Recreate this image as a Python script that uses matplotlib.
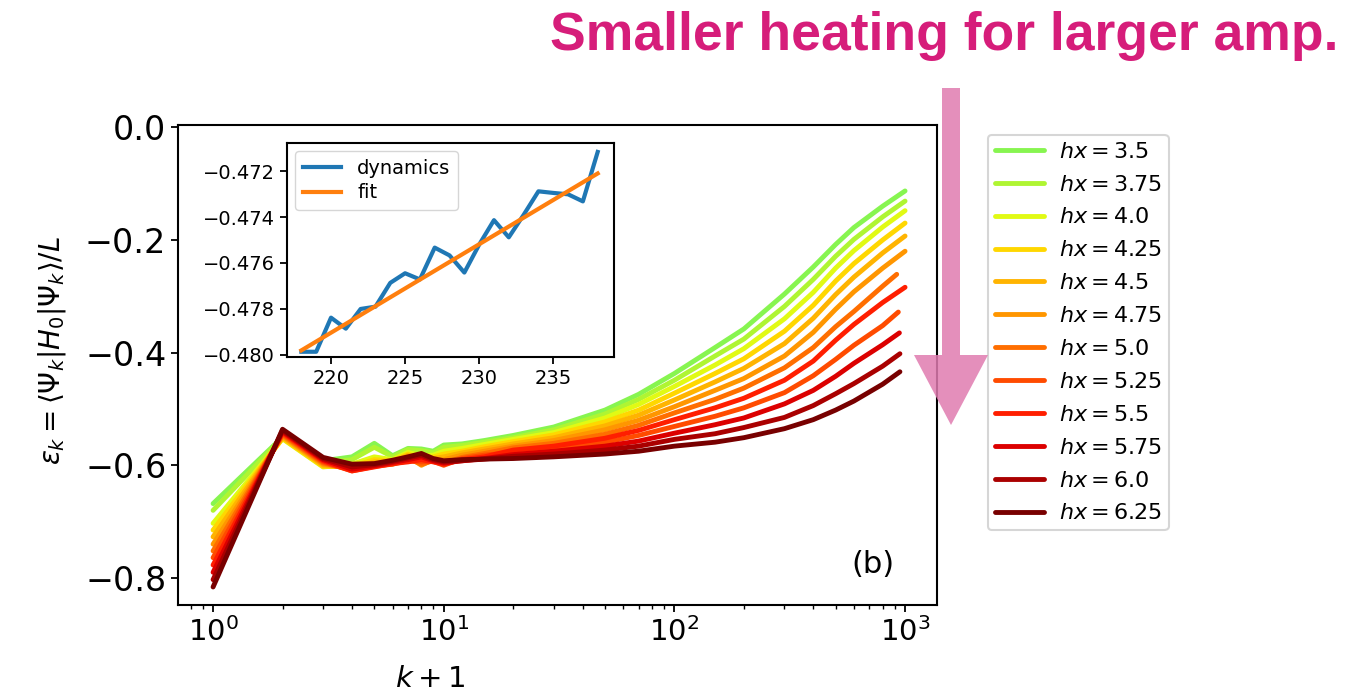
import matplotlib
matplotlib.use('Agg')
import matplotlib.pyplot as plt
from matplotlib.patches import FancyArrow
from matplotlib.ticker import FixedLocator

plt.rcParams['font.family'] = ['DejaVu Sans']
plt.rcParams['mathtext.fontset'] = 'dejavusans'

# k+1 sample points (the last point is replaced by each curve's end point)
k_grid = [1, 2, 3, 4, 5, 6, 7, 8, 9, 10, 12, 15, 20, 30, 50, 70, 100, 150, 200, 300, 400, 500, 600, 800, 1000]

hx_values = ['3.5', '3.75', '4.0', '4.25', '4.5', '4.75', '5.0', '5.25', '5.5', '5.75', '6.0', '6.25']
end_k = [1000, 1000, 1000, 1000, 1000, 1000, 920, 935, 1000, 945, 950, 950]
line_colors = ['#87f550', '#aff532', '#e1fa14', '#ffd700', '#ffb400', '#ff9600',
               '#ff6e00', '#ff4b00', '#ff1e00', '#dc0000', '#aa0000', '#780000']

eps_350 = [-0.668, -0.550, -0.592, -0.585, -0.561, -0.583, -0.570, -0.571, -0.575, -0.564, -0.562, -0.556,
           -0.547, -0.532, -0.502, -0.474, -0.437, -0.391, -0.358, -0.296, -0.248, -0.208, -0.178, -0.140, -0.113]
eps_375 = [-0.680, -0.551, -0.595, -0.590, -0.568, -0.585, -0.572, -0.574, -0.578, -0.568, -0.565, -0.559,
           -0.551, -0.537, -0.509, -0.483, -0.449, -0.406, -0.376, -0.318, -0.270, -0.229, -0.199, -0.159, -0.131]
eps_400 = [-0.703, -0.553, -0.603, -0.598, -0.585, -0.590, -0.577, -0.583, -0.582, -0.575, -0.570, -0.563,
           -0.554, -0.542, -0.516, -0.492, -0.460, -0.422, -0.393, -0.340, -0.293, -0.250, -0.219, -0.177, -0.148]
eps_425 = [-0.715, -0.552, -0.602, -0.602, -0.590, -0.592, -0.580, -0.590, -0.585, -0.580, -0.575, -0.567,
           -0.558, -0.546, -0.523, -0.502, -0.472, -0.437, -0.411, -0.362, -0.316, -0.273, -0.242, -0.200, -0.170]
eps_450 = [-0.727, -0.550, -0.600, -0.604, -0.594, -0.595, -0.582, -0.596, -0.588, -0.585, -0.578, -0.571,
           -0.562, -0.551, -0.530, -0.511, -0.484, -0.452, -0.428, -0.384, -0.339, -0.297, -0.266, -0.223, -0.193]
eps_475 = [-0.740, -0.548, -0.598, -0.606, -0.597, -0.597, -0.584, -0.600, -0.590, -0.590, -0.582, -0.575,
           -0.566, -0.556, -0.537, -0.520, -0.496, -0.467, -0.446, -0.406, -0.364, -0.323, -0.292, -0.250, -0.220]
eps_500 = [-0.752, -0.546, -0.596, -0.608, -0.600, -0.598, -0.588, -0.598, -0.592, -0.596, -0.586, -0.579,
           -0.569, -0.561, -0.545, -0.529, -0.507, -0.483, -0.463, -0.427, -0.391, -0.354, -0.327, -0.282, -0.261]
eps_525 = [-0.764, -0.544, -0.594, -0.610, -0.602, -0.598, -0.592, -0.594, -0.593, -0.600, -0.588, -0.582,
           -0.577, -0.571, -0.559, -0.547, -0.531, -0.513, -0.498, -0.471, -0.441, -0.412, -0.387, -0.352, -0.328]
eps_550 = [-0.777, -0.542, -0.592, -0.610, -0.603, -0.597, -0.594, -0.590, -0.594, -0.598, -0.590, -0.585,
           -0.573, -0.566, -0.552, -0.538, -0.519, -0.498, -0.481, -0.449, -0.415, -0.378, -0.350, -0.311, -0.284]
eps_575 = [-0.790, -0.540, -0.590, -0.607, -0.601, -0.595, -0.590, -0.585, -0.592, -0.596, -0.592, -0.588,
           -0.581, -0.575, -0.566, -0.557, -0.543, -0.528, -0.516, -0.491, -0.467, -0.442, -0.419, -0.386, -0.365]
eps_600 = [-0.803, -0.538, -0.588, -0.603, -0.599, -0.593, -0.587, -0.582, -0.590, -0.594, -0.592, -0.589,
           -0.584, -0.580, -0.573, -0.566, -0.554, -0.544, -0.533, -0.515, -0.494, -0.473, -0.455, -0.424, -0.402]
eps_625 = [-0.816, -0.536, -0.586, -0.598, -0.597, -0.591, -0.585, -0.579, -0.588, -0.592, -0.590, -0.589,
           -0.588, -0.585, -0.580, -0.575, -0.566, -0.559, -0.551, -0.535, -0.519, -0.502, -0.486, -0.456, -0.434]

all_eps = [eps_350, eps_375, eps_400, eps_425, eps_450, eps_475,
           eps_500, eps_525, eps_550, eps_575, eps_600, eps_625]

# inset: energy around k ~ 218..238
inset_k = [218, 219, 220, 221, 222, 223, 224, 225, 226, 227, 228, 229, 230, 231, 232, 233, 234, 235, 236, 237, 238]
inset_dyn = [-0.47988, -0.47988, -0.47839, -0.47887, -0.47801, -0.47791, -0.47687, -0.47645, -0.47672,
             -0.47533, -0.47567, -0.47642, -0.47520, -0.47413, -0.47488, -0.47390, -0.47287, -0.47294,
             -0.47300, -0.47331, -0.47115]
fit_k = [218, 238]
fit_val = [-0.47982, -0.47209]

fig = plt.figure(figsize=(13.5, 6.95), dpi=100)
ax = fig.add_axes([0.1319, 0.1295, 0.5622, 0.6906])

for hx, eps, kend, c in zip(hx_values, all_eps, end_k, line_colors):
    kk = k_grid[:-1] + [kend]
    ax.plot(kk, eps, color=c, lw=3.5, solid_capstyle='round', solid_joinstyle='round',
            label=r'$hx = %s$' % hx)

ax.set_xscale('log')
ax.set_xlim(0.705, 1376)
ax.set_ylim(-0.848, 0.004)
ax.yaxis.set_major_locator(FixedLocator([0.0, -0.2, -0.4, -0.6, -0.8]))
ax.tick_params(axis='y', labelsize=24, width=1.3, length=5)
ax.tick_params(axis='x', which='major', labelsize=21, width=1.3, length=5)
ax.tick_params(axis='x', which='minor', width=1.0, length=3)
for s in ax.spines.values():
    s.set_linewidth(1.5)
ax.set_xlabel(r'$k+1$', fontsize=21)
ax.xaxis.set_label_coords((430 - 178) / 759, -0.125)
ax.set_ylabel(r'$\varepsilon_k = \langle\Psi_k|H_0|\Psi_k\rangle/L$', fontsize=20)
ax.yaxis.set_label_coords(-0.145, 0.53)
ax.text(0.915, 0.085, '(b)', transform=ax.transAxes, fontsize=22, ha='center', va='center')

leg = ax.legend(loc='upper left', bbox_to_anchor=(988 / 1350, 1 - 135 / 695),
                bbox_transform=fig.transFigure, borderaxespad=0, fontsize=16,
                labelspacing=0.58, handlelength=2.2, handletextpad=0.7,
                borderpad=0.3, frameon=True)
leg.get_frame().set_edgecolor('#cccccc')
leg.get_frame().set_linewidth(1.5)

# inset
axin = fig.add_axes([0.2126, 0.4863, 0.2422, 0.3079])
axin.plot(inset_k, inset_dyn, color='#1f77b4', lw=3, label='dynamics')
axin.plot(fit_k, fit_val, color='#ff7f0e', lw=3, label='fit')
axin.set_xlim(217.03, 239.1)
axin.set_ylim(-0.48011, -0.47076)
axin.set_xticks([220, 225, 230, 235])
axin.set_yticks([-0.480, -0.478, -0.476, -0.474, -0.472])
axin.set_yticklabels(['\u22120.480', '\u22120.478', '\u22120.476', '\u22120.474', '\u22120.472'])
axin.tick_params(labelsize=14, width=1.3, length=5)
for s in axin.spines.values():
    s.set_linewidth(1.5)
il = axin.legend(loc='upper left', fontsize=14, handlelength=2.0, borderaxespad=0.4,
                 labelspacing=0.3)
il.get_frame().set_edgecolor('#cccccc')

# annotation arrow and headline
arrow = FancyArrow(951 / 1350, 1 - 88 / 695, 0, -(425 - 88) / 695, width=18 / 1350,
                   head_width=74 / 1350, head_length=70 / 695, length_includes_head=True,
                   transform=fig.transFigure, color='#e07bb0', alpha=0.85, lw=0, zorder=5)
fig.patches.append(arrow)
fig.text(1338 / 1350, 1 - 50 / 695, 'Smaller heating for larger amp.', ha='right', va='baseline',
         fontsize=38.5, fontweight='bold', color='#d61d7a', family='Liberation Sans')

fig.savefig('out.png', dpi=100)
